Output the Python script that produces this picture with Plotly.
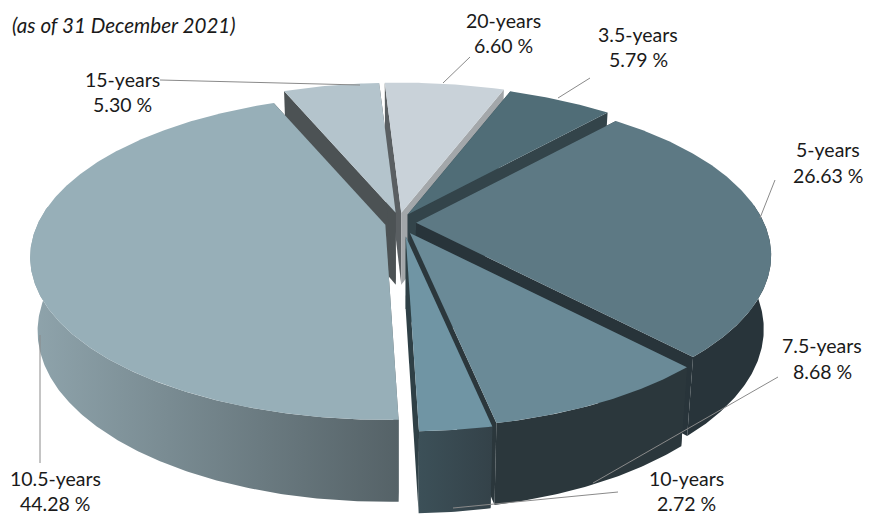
import numpy as np
import plotly.graph_objects as go

# ---- data ----
categories = ["3.5-years", "5-years", "7.5-years", "10-years", "10.5-years", "15-years", "20-years"]
values = [5.79, 26.63, 8.68, 2.72, 44.28, 5.30, 6.60]
value_labels = ["5.79 %", "26.63 %", "8.68 %", "2.72 %", "44.28 %", "5.30 %", "6.60 %"]
title_text = "(as of 31 December 2021)"

# ---- style ----
top_colors = ["#506d77", "#5d7984", "#6a8a97", "#7095a4", "#97afb8", "#b4c4cc", "#c9d2d9"]
side_colors_start = ["#33444a", "#28343a", "#2b373c", "#2f4046", "#59666b", "#4c5254", "#5a5f62"]
side_colors_end = ["#33444a", "#28343a", "#2b373c", "#2f4046", "#4c5254", "#4c5254", "#a3a7aa"]
wall_left = ["#33444a", "#28343a", "#2b373c", "#3c5058", "#8fa4ac", "#4c5254", "#5a5f62"]
wall_right = ["#33444a", "#28343a", "#2b373c", "#344249", "#556267", "#4c5254", "#5a5f62"]
paint_order = ["20-years", "15-years", "3.5-years", "5-years", "10.5-years", "7.5-years", "10-years"]
font = "Lato"
label_size = 19.5
title_size = 20.6
text_color = "#1a1a1a"
leader_color = "#8a8a8a"

# projection of the tilted disc
CX, CY = 401, 226
RX, A, K = 348, 156, 0.2
START = 20.5
EXPLODE = 15
DEPTH, DEPTH_K, BOTTOM_SCALE = 72, 0.122, 0.98
# small per-slice refinements of the explosion offset
explode_nudge = {
    "3.5-years": (-1, 0), "5-years": (0, -3), "7.5-years": (2, -5), "10-years": (3, -3),
    "10.5-years": (-1, -4), "15-years": (-2, 0), "20-years": (-2, 0),
}


def top_xy(theta_deg, ox, oy):
    t = np.radians(theta_deg)
    u, v = np.sin(t), -np.cos(t)
    den = 1 - K * v
    return CX + ox + RX * u / den, CY + oy + A * v / den, v


def bottom_xy(x, y, v):
    return CX + (x - CX) * BOTTOM_SCALE, y + DEPTH / (1 - DEPTH_K * v)


def poly(xs, ys, color, gradient=None):
    kw = dict(x=list(xs) + [xs[0]], y=list(ys) + [ys[0]], mode="lines", fill="toself",
              line=dict(width=0, color=color), hoverinfo="skip", showlegend=False)
    if gradient:
        kw["fillgradient"] = dict(type="horizontal", colorscale=[[0, gradient[0]], [1, gradient[1]]])
    else:
        kw["fillcolor"] = color
    return go.Scatter(**kw)


total = sum(values)
edges = START + np.concatenate([[0], np.cumsum(values)]) * 360 / total
fig = go.Figure()

for name in paint_order:
    i = categories.index(name)
    a0, a1 = edges[i], edges[i + 1]
    mid = np.radians((a0 + a1) / 2)
    nx, ny = explode_nudge[name]
    ox, oy = EXPLODE * np.sin(mid) + nx, -EXPLODE * 0.9 * np.cos(mid) + ny
    th = np.linspace(a0, a1, max(8, int((a1 - a0) * 2)))
    rx_, ry_, rv = top_xy(th, ox, oy)
    tx, ty = CX + ox, CY + oy
    tbx, tby = bottom_xy(tx, ty, 0.0)
    bx, by = bottom_xy(rx_, ry_, rv)
    # radial side walls
    fig.add_trace(poly([tx, rx_[0], bx[0], tbx], [ty, ry_[0], by[0], tby], side_colors_start[i]))
    fig.add_trace(poly([tx, rx_[-1], bx[-1], tbx], [ty, ry_[-1], by[-1], tby], side_colors_end[i]))
    # outer rim wall, the part that faces the viewer
    m = rv > -0.12
    if m.sum() >= 2:
        fig.add_trace(poly(list(rx_[m]) + list(bx[m][::-1]), list(ry_[m]) + list(by[m][::-1]),
                           wall_left[i], gradient=(wall_left[i], wall_right[i])))
    # top face
    fig.add_trace(poly([tx] + list(rx_), [ty] + list(ry_), top_colors[i]))

# label placement: centre x, y of name line, y of value line, leader line
label_layout = {
    "3.5-years": (638, 34, 59, (590, 78, 558, 98)),
    "5-years": (828, 149, 175, (775, 180, 760, 218)),
    "7.5-years": (822, 345, 371, (778, 377, 593, 483)),
    "10-years": (686, 478, 503, (618, 492, 453, 508)),
    "10.5-years": (55, 478, 503, (40, 335, 40, 463)),
    "15-years": (122, 79, 104, (160, 80, 360, 85)),
    "20-years": (503, 20, 45, (470, 57, 443, 83)),
}
for name, val in zip(categories, value_labels):
    x, y1, y2, (lx0, ly0, lx1, ly1) = label_layout[name]
    fig.add_shape(type="line", x0=lx0, y0=ly0, x1=lx1, y1=ly1, xref="x", yref="y",
                  line=dict(color=leader_color, width=1), layer="above")
    for txt, yy in ((name, y1), (val, y2)):
        fig.add_annotation(x=x, y=yy, text=txt, showarrow=False, xanchor="center", yanchor="middle",
                           font=dict(family=font, size=label_size, color=text_color))

fig.add_annotation(x=10, y=25, text="<i>" + title_text + "</i>", showarrow=False,
                   xanchor="left", yanchor="middle",
                   font=dict(family=font, size=title_size, color=text_color))

fig.update_layout(
    width=880, height=514, margin=dict(l=0, r=0, t=0, b=0),
    paper_bgcolor="white", plot_bgcolor="white", showlegend=False,
    xaxis=dict(range=[0, 880], visible=False, fixedrange=True),
    yaxis=dict(range=[514, 0], visible=False, fixedrange=True),
)
fig.write_html("out.html", config={"displayModeBar": False},
               post_script="document.body.style.margin='0';document.documentElement.style.overflow='hidden';")
